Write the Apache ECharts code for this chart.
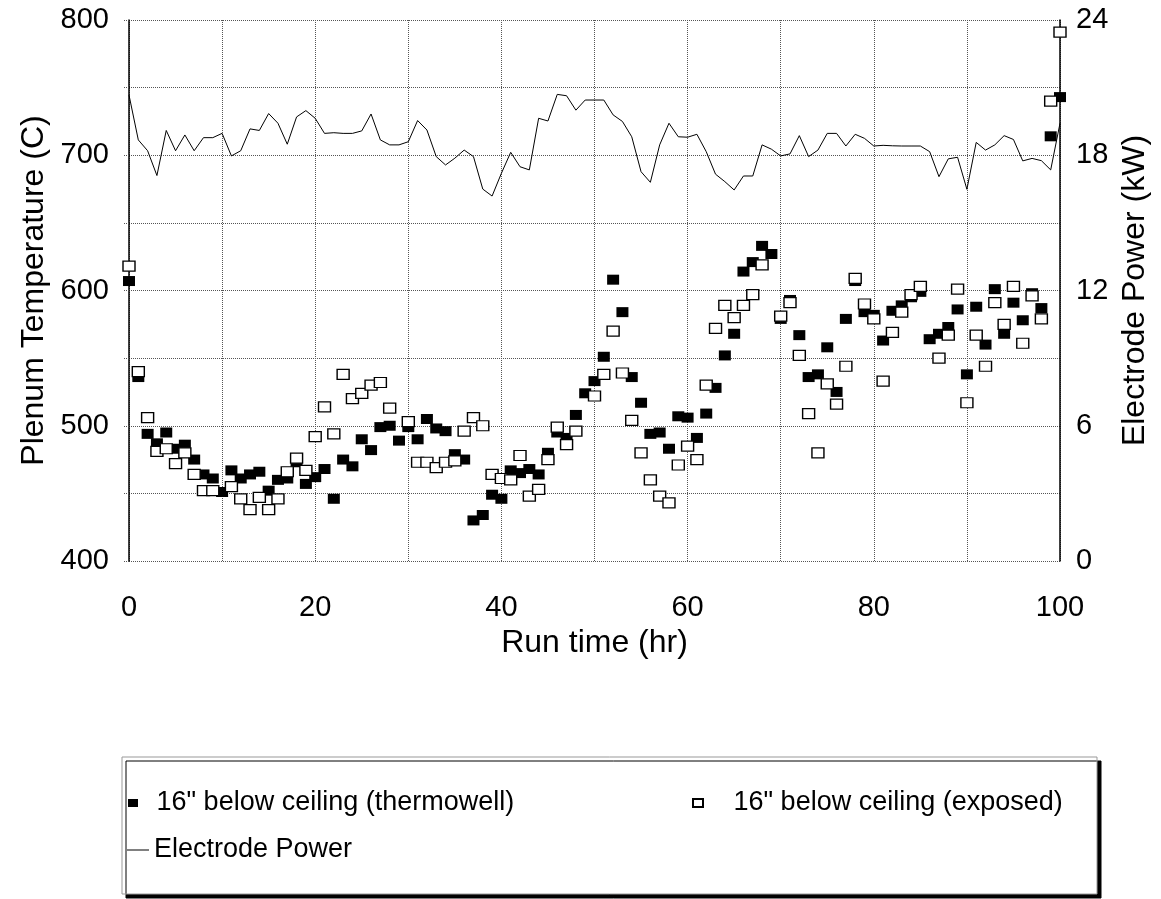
<!DOCTYPE html>
<html>
<head>
<meta charset="utf-8">
<script src="https://cdn.jsdelivr.net/npm/echarts@6/dist/echarts.min.js"></script>
<style>
html,body{margin:0;padding:0;background:#fff;}
#chart{width:1161px;height:899px;}
</style>
</head>
<body>
<div id="chart"></div>
<script>
// Run time (hr)
const hours = [0,1,2,3,4,5,6,7,8,9,10,11,12,13,14,15,16,17,18,19,20,21,22,23,24,25,26,27,28,29,30,31,32,33,34,35,36,37,38,39,40,41,42,43,44,45,46,47,48,49,50,51,52,53,54,55,56,57,58,59,60,61,62,63,64,65,66,67,68,69,70,71,72,73,74,75,76,77,78,79,80,81,82,83,84,85,86,87,88,89,90,91,92,93,94,95,96,97,98,99,100];

// 16" below ceiling (thermowell), deg C
const thermowell = [607,536,494,487,495,483,486,475,464,461,451,467,461,464,466,452,460,461,473,457,462,468,446,475,470,490,482,499,500,489,499,490,505,498,496,479,475,430,434,449,446,467,465,468,464,480,495,491,508,524,533,551,608,584,536,517,494,495,483,507,506,491,509,528,552,568,614,621,633,627,579,593,567,536,538,558,525,579,607,584,582,563,585,589,595,599,564,568,573,586,538,588,560,601,568,591,578,598,587,714,743];

// 16" below ceiling (exposed), deg C (null = hidden)
const exposed = [618,540,506,481,483,472,480,464,452,452,null,455,446,438,447,438,446,466,476,467,492,514,494,538,520,524,530,532,513,null,503,473,473,469,473,474,496,506,500,464,461,460,478,448,453,475,499,486,496,null,522,538,570,539,504,480,460,448,443,471,485,475,530,572,589,580,589,597,619,null,581,591,552,509,480,531,516,544,609,590,579,533,569,584,597,603,null,550,567,601,517,567,544,591,575,603,561,596,579,740,791];

// Electrode Power, kW
const powerKW = [20.67,18.68,18.2,17.1,19.1,18.2,18.9,18.2,18.78,18.78,18.97,17.97,18.2,19.17,19.1,19.85,19.42,18.49,19.7,19.98,19.64,18.97,19.0,18.97,18.97,19.08,19.83,18.68,18.46,18.46,18.6,19.54,19.12,17.94,17.57,17.87,18.23,17.94,16.5,16.19,17.2,18.13,17.49,17.35,19.64,19.52,20.7,20.64,20.0,20.45,20.45,20.45,19.79,19.5,18.82,17.27,16.8,18.46,19.42,18.82,18.8,18.93,18.16,17.16,16.83,16.46,17.08,17.08,18.46,18.27,17.97,18.06,18.87,17.94,18.23,18.97,18.97,18.41,18.93,18.75,18.41,18.44,18.42,18.41,18.41,18.41,18.16,17.05,17.84,17.91,16.49,18.57,18.23,18.46,18.87,18.7,17.75,17.86,17.76,17.35,19.42];

const xTickLabels = [0,20,40,60,80,100];
const tempTickLabels = [400,500,600,700,800];
const powerTickLabels = [0,6,12,18,24];

const seriesNames = ['16" below ceiling (thermowell)', '16" below ceiling (exposed)', 'Electrode Power'];

const FONT = "'Liberation Sans', Arial, Helvetica, sans-serif";
const pair = (arr) => hours.map((h, i) => [h, arr[i]]).filter(p => p[1] !== null);

const chart = echarts.init(document.getElementById('chart'), null, {renderer: 'canvas'});
const gridLine = {show: true, lineStyle: {color: '#555', type: 'dotted', width: 1}};
const legendText = {fontSize: 27, fontFamily: FONT, color: '#000', lineHeight: 30};
const squareIcon = 'path://M0,0H10V8H0Z';
const lineIcon = 'path://M0,0H22V1H0Z';

chart.setOption({
  animation: false,
  backgroundColor: '#fff',
  textStyle: {fontFamily: FONT, color: '#000'},
  grid: {left: 129, right: 101, top: 20, bottom: 338, containLabel: false},
  graphic: [{
    type: 'rect',
    z: -1,
    shape: {x: 122, y: 757, width: 975, height: 137},
    style: {fill: '#fff', stroke: '#999', lineWidth: 1, shadowColor: '#000', shadowOffsetX: 4, shadowOffsetY: 4, shadowBlur: 0}
  }],
  legend: [{
    data: [{name: seriesNames[0], icon: squareIcon}],
    left: 128, top: 788, padding: 0,
    itemWidth: 37, itemHeight: 8,
    textStyle: legendText, selectedMode: false
  }, {
    data: [{name: seriesNames[1], icon: squareIcon}],
    left: 692, top: 788, padding: 0,
    itemWidth: 61, itemHeight: 8,
    textStyle: legendText, selectedMode: false
  }, {
    data: [{name: seriesNames[2], icon: lineIcon}],
    left: 127, top: 835, padding: 0,
    itemWidth: 22, itemHeight: 8,
    textStyle: legendText, selectedMode: false
  }],
  xAxis: {
    type: 'value', min: 0, max: 100, interval: 10,
    name: 'Run time (hr)', nameLocation: 'middle', nameGap: 66,
    nameTextStyle: {fontSize: 32, fontFamily: FONT, color: '#000'},
    axisLine: {show: false},
    axisTick: {show: false},
    axisLabel: {fontSize: 29, fontFamily: FONT, color: '#000', margin: 32,
      formatter: v => xTickLabels.includes(v) ? String(v) : ''},
    splitLine: gridLine
  },
  yAxis: [{
    type: 'value', min: 400, max: 800, interval: 50, position: 'left',
    name: 'Plenum Temperature (C)', nameLocation: 'middle', nameGap: 68, nameRotate: 90,
    nameTextStyle: {fontSize: 32, fontFamily: FONT, color: '#000'},
    axisLine: {show: true, onZero: false, lineStyle: {color: '#000', width: 1.5}},
    axisTick: {show: true, length: 6, lineStyle: {color: '#555', type: 'dotted'}},
    axisLabel: {fontSize: 29, fontFamily: FONT, color: '#000', margin: 20,
      formatter: v => tempTickLabels.includes(v) ? String(v) : ''},
    splitLine: gridLine
  }, {
    type: 'value', min: 0, max: 24, interval: 3, position: 'right',
    name: 'Electrode Power (kW)', nameLocation: 'middle', nameGap: 48, nameRotate: 90,
    nameTextStyle: {fontSize: 32, fontFamily: FONT, color: '#000'},
    axisLine: {show: true, onZero: false, lineStyle: {color: '#000', width: 1.5}},
    axisTick: {show: false},
    axisLabel: {fontSize: 29, fontFamily: FONT, color: '#000', margin: 16,
      formatter: v => powerTickLabels.includes(v) ? String(v) : ''},
    splitLine: {show: false}
  }],
  series: [{
    name: seriesNames[0], type: 'scatter', yAxisIndex: 0, z: 3,
    symbol: 'rect', symbolSize: [12, 10],
    itemStyle: {color: '#000', opacity: 1},
    data: pair(thermowell)
  }, {
    name: seriesNames[1], type: 'scatter', yAxisIndex: 0, z: 4,
    symbol: 'rect', symbolSize: [12, 10],
    itemStyle: {color: '#fff', borderColor: '#000', borderWidth: 1.3, opacity: 1},
    data: pair(exposed)
  }, {
    name: seriesNames[2], type: 'line', yAxisIndex: 1, z: 2,
    symbol: 'none', showSymbol: false,
    lineStyle: {color: '#000', width: 1},
    itemStyle: {color: '#000'},
    data: pair(powerKW)
  }]
});
</script>
</body>
</html>
